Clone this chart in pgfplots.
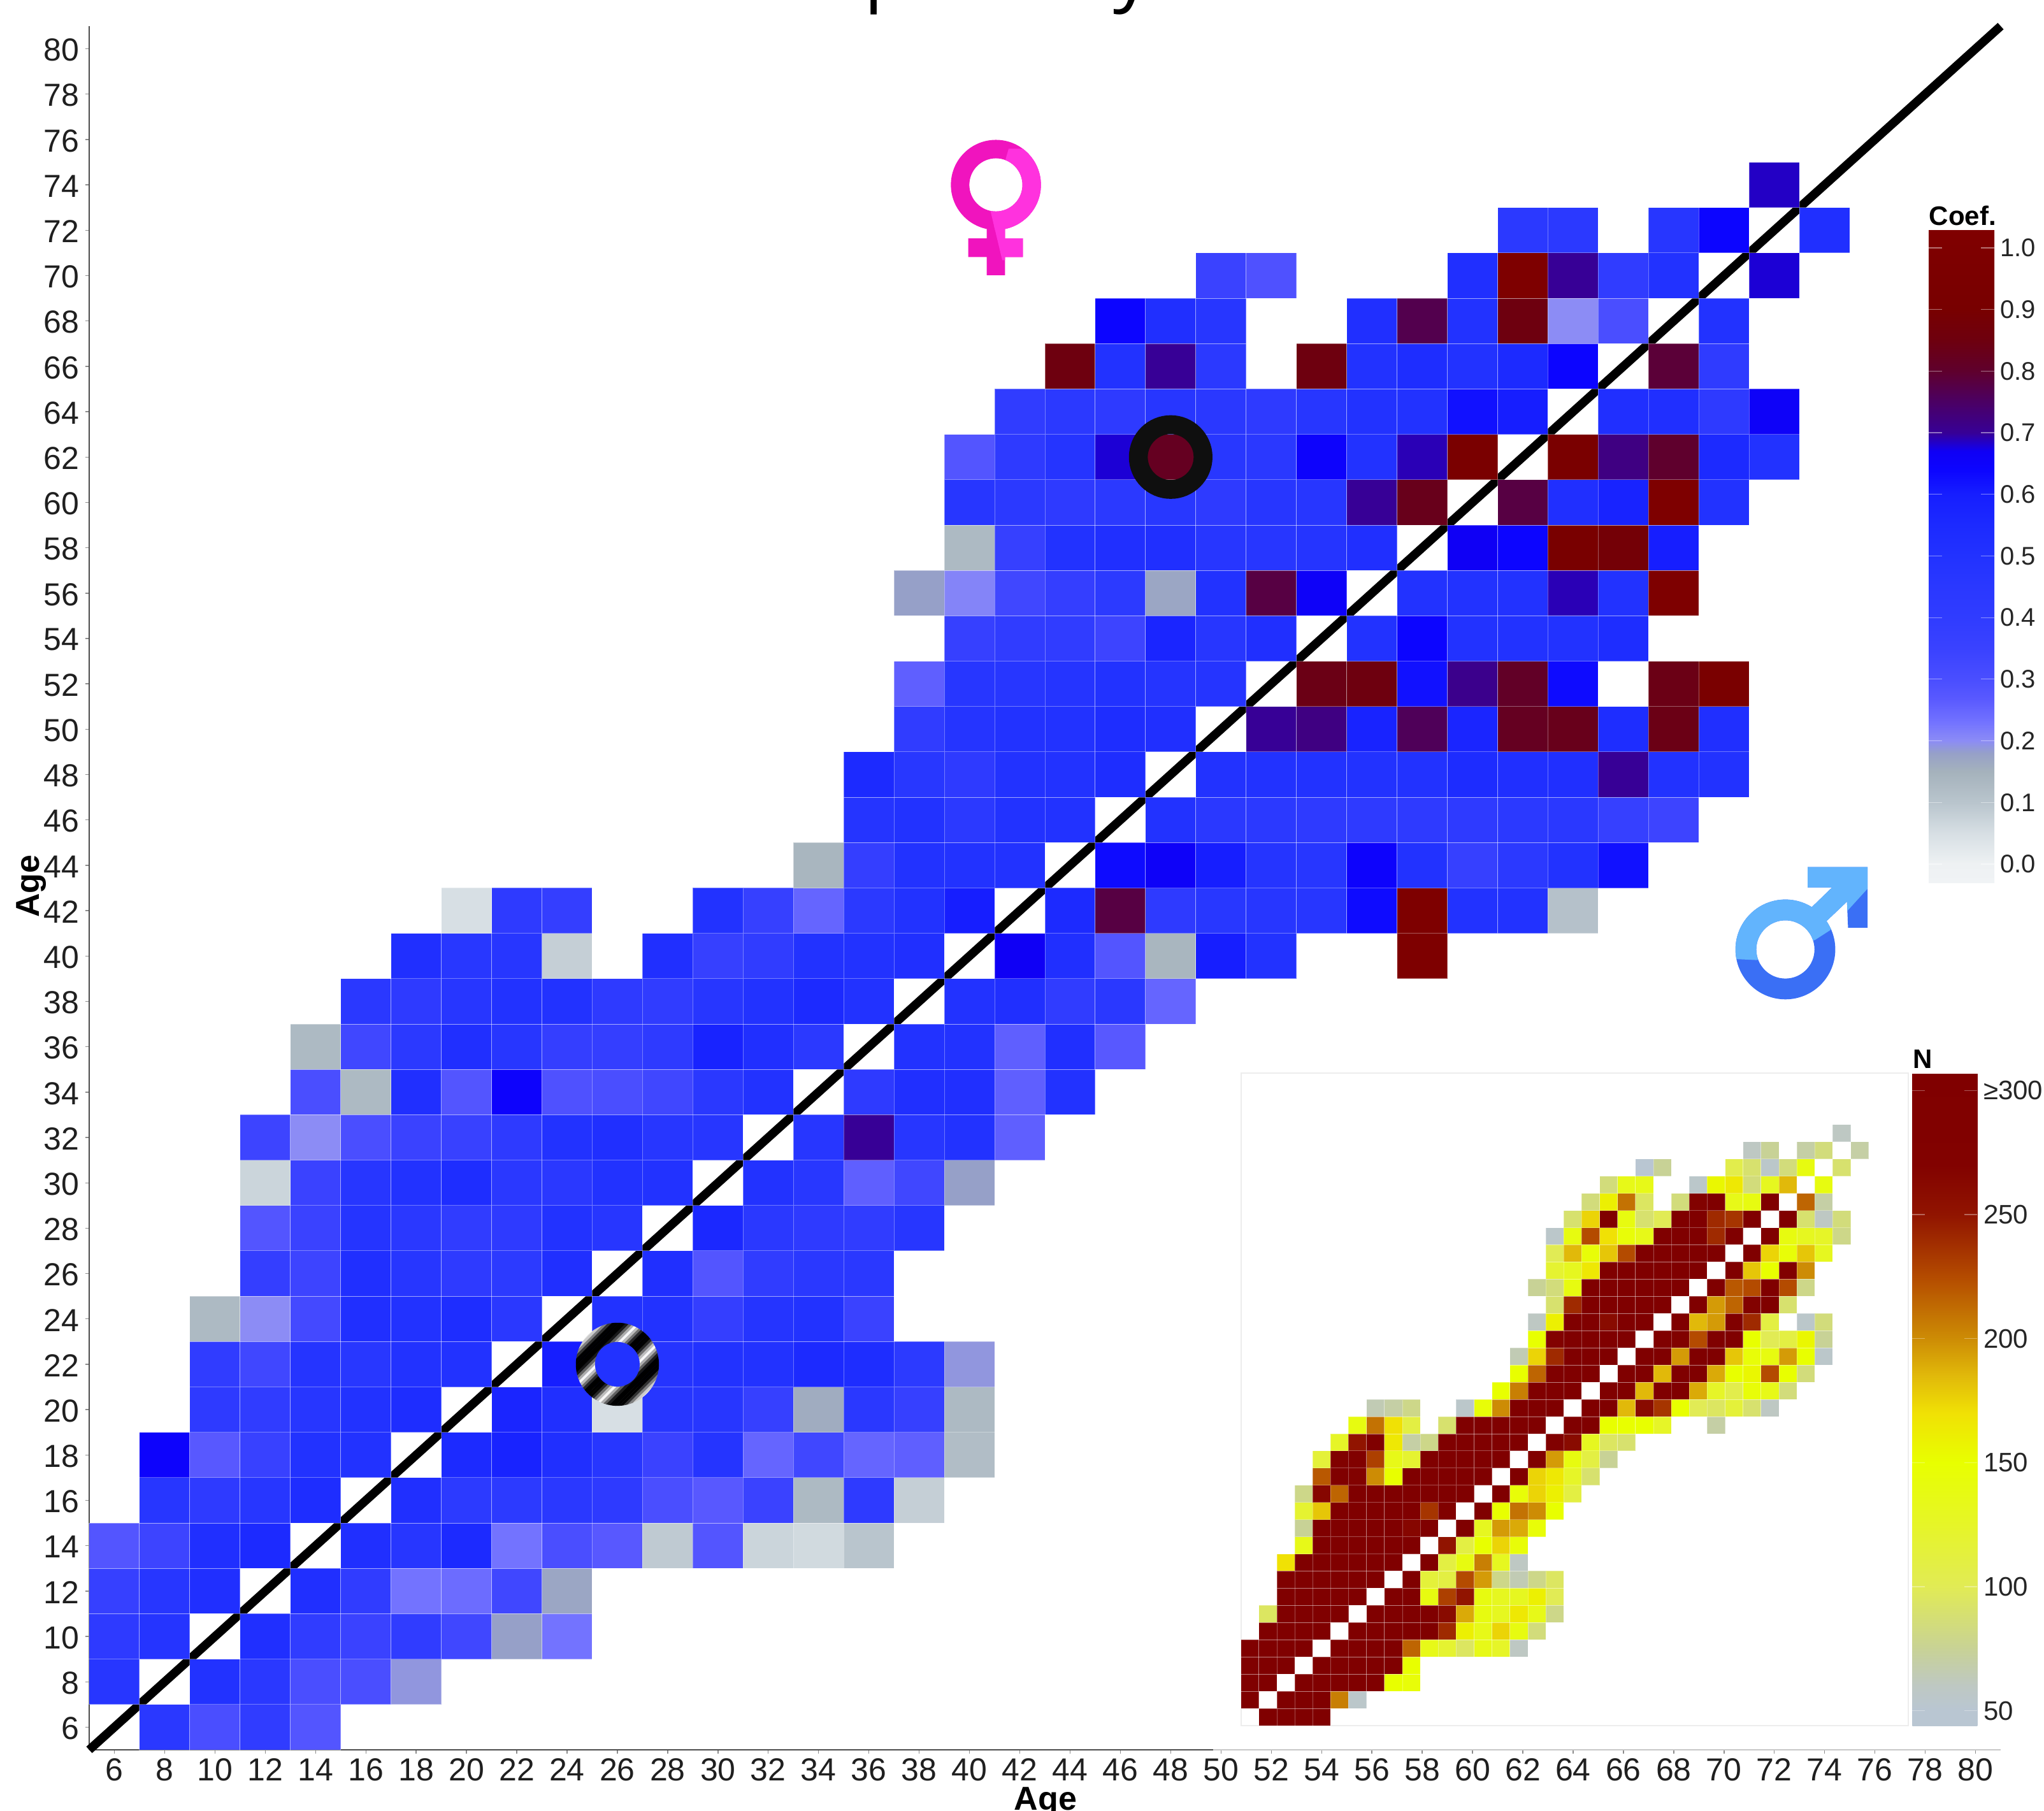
\documentclass[border=0pt]{standalone}
\usepackage{fontspec}
\setmainfont{Liberation Sans}
\newfontfamily\titlefont{Open Sans}
\usepackage{pgfplots}
\pgfplotsset{compat=1.18}

% 1 px of the reference = 0.25pt here
\pgfplotsset{
  colormap={coef}{
    rgb255(0pt)=(240,243,245) rgb255(3pt)=(238,241,243) rgb255(8pt)=(215,223,228)
    rgb255(13pt)=(185,197,205) rgb255(18pt)=(165,178,188) rgb255(21pt)=(150,160,200)
    rgb255(23pt)=(140,140,245) rgb255(26pt)=(115,115,255) rgb255(30pt)=(88,88,255)
    rgb255(33pt)=(74,78,255) rgb255(38pt)=(58,66,255) rgb255(43pt)=(48,60,255)
    rgb255(48pt)=(42,56,255) rgb255(53pt)=(34,50,255) rgb255(58pt)=(28,42,255)
    rgb255(63pt)=(22,30,255) rgb255(67pt)=(12,5,255) rgb255(70pt)=(15,0,245)
    rgb255(73pt)=(55,0,150) rgb255(78pt)=(75,0,100) rgb255(83pt)=(95,0,45)
    rgb255(88pt)=(110,0,15) rgb255(93pt)=(120,0,0) rgb255(106pt)=(128,0,0)},
  colormap={count}{
    rgb255(0pt)=(185,198,210) rgb255(6pt)=(185,198,210) rgb255(16pt)=(190,200,195)
    rgb255(31pt)=(200,210,150) rgb255(46pt)=(215,225,110) rgb255(56pt)=(225,235,85)
    rgb255(81pt)=(230,245,40) rgb255(106pt)=(232,255,0) rgb255(126pt)=(240,225,5)
    rgb255(141pt)=(225,185,10) rgb255(156pt)=(205,140,5) rgb255(181pt)=(180,75,0)
    rgb255(206pt)=(145,20,0) rgb255(226pt)=(130,2,0) rgb255(263pt)=(128,0,0)},
  cell/.style={scatter, only marks, mark=square*, scatter src=explicit,
    scatter/use mapped color={draw=white,fill=mapped color}},
}

\definecolor{venusdark}{RGB}{240,20,190}
\definecolor{venuslight}{RGB}{255,50,222}
\definecolor{marsdark}{RGB}{58,111,245}
\definecolor{marslight}{RGB}{98,180,253}

% ring with a diagonal black and white grating, built from thin strips
\pgfdeclareplotmark{stripedring}{%
  \pgfpathcircle{\pgfpointorigin}{16.3pt}%
  \pgfpathcircle{\pgfpointorigin}{8.8pt}%
  \pgfseteorule\pgfusepath{clip}%
  \pgfsetnonzerorule
  \pgftransformrotate{-45}%
  \foreach \p/\k in {-17/10,-16/20,-15/50,-14/80,-13/100,-12/100,-11/100,-10/100,-9/90,-8/62,-7/32,-6/3,-5/26,-4/56,-3/85,-2/100,-1/100,0/100,1/100,2/85,3/56,4/26,5/3,6/32,7/62,8/90,9/100,10/100,11/100,12/100,13/80,14/50,15/20,16/10}{%
    \pgfsetfillcolor{black!\k!white}%
    \pgfpathrectangle{\pgfpoint{\p pt}{-18pt}}{\pgfpoint{1.05pt}{36pt}}%
    \pgfusepath{fill}}}

\def\pg#1#2{\pgfpoint{#1pt}{#2pt}}

\def\venusshape{%
  \pgfpathcircle{\pgfpointorigin}{212pt}\pgfpathcircle{\pgfpointorigin}{125pt}%
  \pgfseteorule\pgfusepath{fill}%
  \pgfsetnonzerorule
  \pgfpathrectangle{\pg{-43}{-425}}{\pg{86}{235}}%
  \pgfpathrectangle{\pg{-130}{-340}}{\pg{257}{88}}%
  \pgfusepath{fill}}
\pgfdeclareplotmark{venus}{%
  \pgftransformscale{0.08333}%
  \pgfsetfillcolor{venusdark}\venusshape
  \pgfpathmoveto{\pg{60}{170}}\pgfpathlineto{\pg{300}{170}}\pgfpathlineto{\pg{300}{-340}}%
  \pgfpathlineto{\pg{30}{-355}}\pgfpathlineto{\pg{-25}{-125}}\pgfpathclose
  \pgfusepath{clip}%
  \pgfsetfillcolor{venuslight}\venusshape}

\def\marsshape{%
  \pgfpathcircle{\pgfpointorigin}{235pt}\pgfpathcircle{\pgfpointorigin}{137pt}%
  \pgfseteorule\pgfusepath{fill}%
  \pgfsetnonzerorule
  \pgfpathmoveto{\pg{105}{388}}\pgfpathlineto{\pg{387}{388}}\pgfpathlineto{\pg{387}{102}}%
  \pgfpathlineto{\pg{295}{102}}\pgfpathlineto{\pg{290}{225}}\pgfpathlineto{\pg{190}{130}}%
  \pgfpathlineto{\pg{110}{110}}\pgfpathlineto{\pg{125}{200}}\pgfpathlineto{\pg{220}{292}}%
  \pgfpathlineto{\pg{105}{292}}\pgfpathclose
  \pgfusepath{fill}}
\pgfdeclareplotmark{mars}{%
  \pgftransformscale{0.08333}%
  \pgfsetfillcolor{marsdark}\marsshape
  \pgfpathmoveto{\pg{-240}{-45}}\pgfpathlineto{\pg{-135}{-50}}\pgfpathlineto{\pg{140}{45}}%
  \pgfpathlineto{\pg{210}{90}}\pgfpathlineto{\pg{295}{185}}\pgfpathlineto{\pg{395}{295}}%
  \pgfpathlineto{\pg{400}{400}}\pgfpathlineto{\pg{-300}{400}}\pgfpathclose
  \pgfusepath{clip}%
  \pgfsetfillcolor{marslight}\marsshape}

\begin{document}
\begin{tikzpicture}[x=1pt,y=1pt]
\path[use as bounding box] (0,0) rectangle (802,710.25);

% cut off by the top of the page, as in the reference
\node[anchor=base east,inner sep=0pt,font=\titlefont\fontsize{29.8}{34}\selectfont] at (452,711.5) {Male and female separately};

\begin{axis}[
  at={(35pt,23.75pt)}, anchor=south west,
  scale only axis, width=750pt, height=676.25pt,
  xmin=5, xmax=81, ymin=5, ymax=81,
  clip=false,
  axis x line*=bottom, axis y line*=left,
  axis line style={-, draw=black!70, line width=.7pt},
  x axis line style={draw=black!22, line width=.5pt},
  xtick={6,8,...,80}, ytick={6,8,...,80},
  tick align=outside, major tick length=1.5pt,
  tick style={draw=black!45, line width=.35pt},
  /pgf/number format/assume math mode=true,
  tick label style={font=\fontsize{12.5}{14}\selectfont, text=black!88, inner sep=0pt},
  xticklabel style={anchor=north, yshift=-1.8pt},
  yticklabel style={anchor=east, xshift=-2.2pt, yshift=-.5pt},
  xlabel={\textbf{Age}}, ylabel={\textbf{Age}},
  xlabel style={at={(axis description cs:0.5003,-0.0351)}, anchor=base, inner sep=0pt, font=\fontsize{13}{15}\selectfont},
  ylabel style={at={(axis description cs:-0.026,0.501)}, anchor=base, rotate=0, inner sep=0pt, font=\fontsize{13}{15}\selectfont},
  colormap name=coef,
  point meta min=-0.03, point meta max=1.03,
  colorbar,
  colorbar/width=25.75pt,
  colorbar style={
    at={(parent axis.south west)}, anchor=south west, xshift=713.25pt, yshift=340.25pt,
    height=256.25pt, scale only axis,
    axis line style={draw=none},
    ytick={0,0.1,...,1.0},
    yticklabels={0.0,0.1,0.2,0.3,0.4,0.5,0.6,0.7,0.8,0.9,1.0},
    ytick pos=both, yticklabel pos=right,
    tick align=inside, major tick length=5.25pt,
    ytick style={draw=white, opacity=.45, line width=.3pt},
    yticklabel style={font=\fontsize{10}{12}\selectfont, text=black!85, inner sep=0pt, xshift=2pt, anchor=west},
    title={\textbf{Coef.}},
    title style={at={(0,1)}, anchor=base west, inner sep=0pt, yshift=-4.3pt, font=\fontsize{10.5}{12}\selectfont},
  },
]
\addplot[cell, mark size=9.87pt, mark options={yscale=.9017, draw opacity=.35, line width=.25pt}] coordinates {
(8,6)[.45](10,6)[.3](12,6)[.4](14,6)[.28]
(6,8)[.47](10,8)[.5](12,8)[.45](14,8)[.3](16,8)[.3](18,8)[.19]
(6,10)[.42](8,10)[.48](12,10)[.52](14,10)[.4](16,10)[.35](18,10)[.4](20,10)[.33](22,10)[.18](24,10)[.23]
(6,12)[.37](8,12)[.47](10,12)[.52](14,12)[.52](16,12)[.4](18,12)[.23](20,12)[.24](22,12)[.33](24,12)[.17]
(6,14)[.28](8,14)[.34](10,14)[.52](12,14)[.55](16,14)[.52](18,14)[.47](20,14)[.55](22,14)[.23](24,14)[.3](26,14)[.27](28,14)[.09](30,14)[.28](32,14)[.07](34,14)[.06](36,14)[.1]
(8,16)[.47](10,16)[.42](12,16)[.47](14,16)[.53](18,16)[.52](20,16)[.43](22,16)[.43](24,16)[.45](26,16)[.42](28,16)[.3](30,16)[.27](32,16)[.35](34,16)[.13](36,16)[.42](38,16)[.08]
(8,18)[.65](10,18)[.27](12,18)[.36](14,18)[.5](16,18)[.5](20,18)[.55](22,18)[.58](24,18)[.52](26,18)[.47](28,18)[.35](30,18)[.48](32,18)[.25](34,18)[.33](36,18)[.25](38,18)[.26](40,18)[.12]
(10,20)[.42](12,20)[.4](14,20)[.47](16,20)[.5](18,20)[.53](22,20)[.57](24,20)[.52](26,20)[.05](28,20)[.47](30,20)[.47](32,20)[.37](34,20)[.16](36,20)[.45](38,20)[.37](40,20)[.13]
(10,22)[.4](12,22)[.33](14,22)[.48](16,22)[.46](18,22)[.5](20,22)[.5](24,22)[.6](26,22)[.5](28,22)[.48](30,22)[.5](32,22)[.5](34,22)[.55](36,22)[.53](38,22)[.43](40,22)[.19]
(10,24)[.13](12,24)[.2](14,24)[.32](16,24)[.52](18,24)[.5](20,24)[.53](22,24)[.45](26,24)[.5](28,24)[.5](30,24)[.38](32,24)[.48](34,24)[.5](36,24)[.35]
(12,26)[.38](14,26)[.34](16,26)[.52](18,26)[.47](20,26)[.42](22,26)[.43](24,26)[.52](28,26)[.52](30,26)[.28](32,26)[.4](34,26)[.45](36,26)[.45]
(12,28)[.28](14,28)[.35](16,28)[.48](18,28)[.45](20,28)[.4](22,28)[.42](24,28)[.5](26,28)[.47](30,28)[.56](32,28)[.45](34,28)[.42](36,28)[.4](38,28)[.47]
(12,30)[.07](14,30)[.35](16,30)[.47](18,30)[.5](20,30)[.53](22,30)[.45](24,30)[.45](26,30)[.5](28,30)[.5](32,30)[.5](34,30)[.46](36,30)[.26](38,30)[.33](40,30)[.18]
(12,32)[.34](14,32)[.2](16,32)[.3](18,32)[.35](20,32)[.36](22,32)[.42](24,32)[.5](26,32)[.52](28,32)[.47](30,32)[.47](34,32)[.47](36,32)[.7](38,32)[.47](40,32)[.5](42,32)[.26]
(14,34)[.3](16,34)[.13](18,34)[.52](20,34)[.28](22,34)[.65](24,34)[.29](26,34)[.3](28,34)[.33](30,34)[.45](32,34)[.5](36,34)[.42](38,34)[.52](40,34)[.52](42,34)[.26](44,34)[.5]
(14,36)[.13](16,36)[.33](18,36)[.44](20,36)[.52](22,36)[.47](24,36)[.38](26,36)[.38](28,36)[.42](30,36)[.58](32,36)[.52](34,36)[.44](38,36)[.5](40,36)[.5](42,36)[.26](44,36)[.52](46,36)[.27]
(16,38)[.45](18,38)[.42](20,38)[.47](22,38)[.5](24,38)[.5](26,38)[.42](28,38)[.4](30,38)[.47](32,38)[.5](34,38)[.55](36,38)[.5](40,38)[.5](42,38)[.52](44,38)[.4](46,38)[.45](48,38)[.25]
(18,40)[.52](20,40)[.46](22,40)[.47](24,40)[.08](28,40)[.52](30,40)[.37](32,40)[.4](34,40)[.5](36,40)[.5](38,40)[.52](42,40)[.67](44,40)[.52](46,40)[.28](48,40)[.14](50,40)[.6](52,40)[.5](58,40)[1.0]
(20,42)[.05](22,42)[.42](24,42)[.38](30,42)[.5](32,42)[.37](34,42)[.25](36,42)[.44](38,42)[.5](40,42)[.6](44,42)[.55](46,42)[.78](48,42)[.42](50,42)[.46](52,42)[.47](54,42)[.47](56,42)[.63](58,42)[1.0](60,42)[.5](62,42)[.5](64,42)[.11]
(34,44)[.14](36,44)[.38](38,44)[.5](40,44)[.5](42,44)[.5](46,44)[.63](48,44)[.66](50,44)[.6](52,44)[.48](54,44)[.47](56,44)[.65](58,44)[.5](60,44)[.37](62,44)[.44](64,44)[.5](66,44)[.62]
(36,46)[.48](38,46)[.5](40,46)[.44](42,46)[.5](44,46)[.5](48,46)[.5](50,46)[.45](52,46)[.44](54,46)[.42](56,46)[.42](58,46)[.42](60,46)[.42](62,46)[.44](64,46)[.45](66,46)[.37](68,46)[.34]
(36,48)[.55](38,48)[.46](40,48)[.42](42,48)[.5](44,48)[.5](46,48)[.53](50,48)[.5](52,48)[.5](54,48)[.5](56,48)[.5](58,48)[.5](60,48)[.54](62,48)[.52](64,48)[.52](66,48)[.7](68,48)[.5](70,48)[.5]
(38,50)[.4](40,50)[.48](42,50)[.5](44,50)[.5](46,50)[.53](48,50)[.52](52,50)[.7](54,50)[.72](56,50)[.58](58,50)[.76](60,50)[.57](62,50)[.82](64,50)[.83](66,50)[.53](68,50)[.84](70,50)[.52]
(38,52)[.26](40,52)[.47](42,52)[.47](44,52)[.48](46,52)[.5](48,52)[.48](50,52)[.48](54,52)[.84](56,52)[.85](58,52)[.62](60,52)[.71](62,52)[.81](64,52)[.63](68,52)[.84](70,52)[.93]
(40,54)[.37](42,54)[.4](44,54)[.4](46,54)[.34](48,54)[.57](50,54)[.47](52,54)[.52](56,54)[.5](58,54)[.64](60,54)[.5](62,54)[.5](64,54)[.5](66,54)[.53]
(38,56)[.18](40,56)[.21](42,56)[.33](44,56)[.38](46,56)[.43](48,56)[.17](50,56)[.5](52,56)[.78](54,56)[.66](58,56)[.5](60,56)[.5](62,56)[.5](64,56)[.69](66,56)[.5](68,56)[1.0]
(40,58)[.13](42,58)[.37](44,58)[.5](46,58)[.52](48,58)[.52](50,58)[.47](52,58)[.47](54,58)[.48](56,58)[.52](60,58)[.67](62,58)[.64](64,58)[.92](66,58)[.88](68,58)[.6]
(40,60)[.47](42,60)[.44](44,60)[.42](46,60)[.44](48,60)[.46](50,60)[.42](52,60)[.47](54,60)[.47](56,60)[.7](58,60)[.83](62,60)[.78](64,60)[.52](66,60)[.58](68,60)[1.0](70,60)[.5]
(40,62)[.28](42,62)[.42](44,62)[.48](46,62)[.68](48,62)[.82](50,62)[.46](52,62)[.45](54,62)[.65](56,62)[.5](58,62)[.69](60,62)[.93](64,62)[.93](66,62)[.72](68,62)[.8](70,62)[.55](72,62)[.5]
(42,64)[.4](44,64)[.44](46,64)[.42](48,64)[.47](50,64)[.45](52,64)[.42](54,64)[.47](56,64)[.5](58,64)[.5](60,64)[.62](62,64)[.6](66,64)[.52](68,64)[.52](70,64)[.42](72,64)[.66]
(44,66)[.85](46,66)[.5](48,66)[.7](50,66)[.44](54,66)[.85](56,66)[.5](58,66)[.53](60,66)[.5](62,66)[.55](64,66)[.64](68,66)[.79](70,66)[.41]
(46,68)[.64](48,68)[.52](50,68)[.47](56,68)[.52](58,68)[.77](60,68)[.5](62,68)[.85](64,68)[.2](66,68)[.3](70,68)[.5]
(50,70)[.35](52,70)[.29](60,70)[.52](62,70)[1.0](64,70)[.7](66,70)[.4](68,70)[.5](72,70)[.68]
(62,72)[.44](64,72)[.44](68,72)[.47](70,72)[.64](74,72)[.52]
(72,74)[.685]
};
% dark part of the bottom axis line, the rest lies under the inset
\addplot[draw=black!70, line width=.7pt, no markers] coordinates {(5,5)(49.7,5)};
\addplot[draw=black, line width=3.4pt, no markers] coordinates {(5,5)(81,81)};
\addplot[only marks, mark=o, mark size=12.7pt, mark options={draw=black!94, line width=7.4pt}] coordinates {(48,62)};
\addplot[only marks, mark=stripedring] coordinates {(26,22)};
\addplot[only marks, mark=venus] coordinates {(41.05,74)};
\addplot[only marks, mark=mars] coordinates {(72.44,40.29)};
\end{axis}

% inset: number of subjects per cell, same age grid
\begin{axis}[
  at={(486.9pt,33.25pt)}, anchor=south west,
  scale only axis, width=261.75pt, height=256pt,
  xmin=5, xmax=79.4, ymin=5, ymax=81,
  clip=false,
  axis line style={draw=black!7, line width=.5pt},
  xtick=\empty, ytick=\empty,
  colormap name=count,
  point meta min=44, point meta max=307,
  colorbar,
  colorbar/width=25.5pt,
  colorbar style={
    at={(parent axis.south west)}, anchor=south west, xshift=254.9pt,
    height=256pt, scale only axis,
    axis line style={draw=none},
    ytick={50,100,150,200,250,300},
    yticklabels={50,100,150,200,250,{≥300}},
    ytick pos=both, yticklabel pos=right,
    tick align=inside, major tick length=5pt,
    ytick style={draw=white, opacity=.35, line width=.3pt},
    yticklabel style={font=\fontsize{10.5}{12}\selectfont, text=black!85, inner sep=0pt, xshift=2.2pt, anchor=west},
    title={\textbf{N}},
    title style={at={(0,1)}, anchor=base west, inner sep=0pt, yshift=-4pt, font=\fontsize{10.5}{12}\selectfont},
  },
]
\addplot[cell, mark size=3.52pt, mark options={yscale=.957, draw opacity=.3, line width=.2pt}] coordinates {
(8,6)[305](10,6)[305](12,6)[305](14,6)[305]
(6,8)[305](10,8)[305](12,8)[305](14,8)[305](16,8)[205](18,8)[55]
(6,10)[305](8,10)[305](12,10)[305](14,10)[305](16,10)[305](18,10)[305](20,10)[305](22,10)[150](24,10)[145]
(6,12)[305](8,12)[305](10,12)[305](14,12)[305](16,12)[305](18,12)[305](20,12)[305](22,12)[305](24,12)[150]
(6,14)[305](8,14)[305](10,14)[305](12,14)[305](16,14)[305](18,14)[305](20,14)[305](22,14)[305](24,14)[215](26,14)[135](28,14)[120](30,14)[95](32,14)[135](34,14)[125](36,14)[60]
(8,16)[305](10,16)[305](12,16)[305](14,16)[305](18,16)[305](20,16)[305](22,16)[305](24,16)[305](26,16)[305](28,16)[240](30,16)[160](32,16)[135](34,16)[175](36,16)[140](38,16)[85]
(8,18)[95](10,18)[305](12,18)[305](14,18)[305](16,18)[305](20,18)[305](22,18)[305](24,18)[305](26,18)[305](28,18)[260](30,18)[190](32,18)[140](34,18)[130](36,18)[165](38,18)[135](40,18)[80]
(10,20)[305](12,20)[305](14,20)[305](16,20)[305](18,20)[305](22,20)[305](24,20)[305](26,20)[140](28,20)[230](30,20)[250](32,20)[140](34,20)[130](36,20)[130](38,20)[160](40,20)[100]
(10,22)[305](12,22)[305](14,22)[305](16,22)[305](18,22)[305](20,22)[305](24,22)[305](26,22)[115](28,22)[110](30,22)[225](32,22)[195](34,22)[80](36,22)[65](38,22)[80](40,22)[95]
(10,24)[170](12,24)[305](14,24)[305](16,24)[305](18,24)[305](20,24)[305](22,24)[305](26,24)[305](28,24)[110](30,24)[140](32,24)[205](34,24)[130](36,24)[60]
(12,26)[135](14,26)[305](16,26)[305](18,26)[305](20,26)[305](22,26)[305](24,26)[305](28,26)[250](30,26)[110](32,26)[150](34,26)[175](36,26)[145]
(12,28)[75](14,28)[305](16,28)[305](18,28)[305](20,28)[305](22,28)[305](24,28)[265](26,28)[305](30,28)[305](32,28)[130](34,28)[195](36,28)[190](38,28)[145]
(12,30)[120](14,30)[180](16,30)[305](18,30)[305](20,30)[305](22,30)[305](24,30)[305](26,30)[235](28,30)[290](32,30)[305](34,30)[150](36,30)[210](38,30)[200](40,30)[150]
(12,32)[80](14,32)[265](16,32)[215](18,32)[305](20,32)[305](22,32)[305](24,32)[305](26,32)[305](28,32)[305](30,32)[305](34,32)[305](36,32)[145](38,32)[175](40,32)[160](42,32)[110]
(14,34)[220](16,34)[305](18,34)[270](20,34)[200](22,34)[150](24,34)[305](26,34)[305](28,34)[305](30,34)[305](32,34)[305](36,34)[305](38,34)[175](40,34)[165](42,34)[125](44,34)[90]
(14,36)[115](16,36)[280](18,36)[280](20,36)[230](22,36)[135](24,36)[120](26,36)[305](28,36)[305](30,36)[305](32,36)[305](34,36)[305](38,36)[290](40,36)[195](42,36)[140](44,36)[110](46,36)[75]
(16,38)[125](18,38)[250](20,38)[305](22,38)[165](24,38)[70](26,38)[80](28,38)[305](30,38)[305](32,38)[305](34,38)[305](36,38)[305](40,38)[290](42,38)[260](44,38)[130](46,38)[95](48,38)[90]
(18,40)[140](20,40)[210](22,40)[170](24,40)[110](28,40)[90](30,40)[305](32,40)[305](34,40)[305](36,40)[305](38,40)[305](42,40)[305](44,40)[305](46,40)[150](48,40)[150](50,40)[150](52,40)[125](58,40)[70]
(20,42)[65](22,42)[70](24,42)[80](30,42)[55](32,42)[145](34,42)[200](36,42)[305](38,42)[305](40,42)[305](44,42)[305](46,42)[305](48,42)[185](50,42)[260](52,42)[235](54,42)[150](56,42)[100](58,42)[95](60,42)[115](62,42)[90](64,42)[60]
(34,44)[150](36,44)[205](38,44)[305](40,44)[305](42,44)[305](46,44)[305](48,44)[305](50,44)[185](52,44)[305](54,44)[305](56,44)[190](58,44)[125](60,44)[105](62,44)[145](64,44)[135](66,44)[85]
(36,46)[150](38,46)[215](40,46)[305](42,46)[305](44,46)[305](48,46)[305](50,46)[305](52,46)[185](54,46)[305](56,46)[305](58,46)[190](60,46)[150](62,46)[155](64,46)[225](66,46)[150](68,46)[85]
(36,48)[65](38,48)[175](40,48)[240](42,48)[305](44,48)[305](46,48)[305](50,48)[305](52,48)[305](54,48)[195](56,48)[305](58,48)[305](60,48)[180](62,48)[145](64,48)[140](66,48)[195](68,48)[150](70,48)[55]
(38,50)[150](40,50)[270](42,50)[305](44,50)[305](46,50)[305](48,50)[305](52,50)[305](54,50)[290](56,50)[225](58,50)[305](60,50)[305](62,50)[150](64,50)[100](66,50)[110](68,50)[155](70,50)[75]
(38,52)[60](40,52)[160](42,52)[305](44,52)[305](46,52)[260](48,52)[305](50,52)[305](54,52)[305](56,52)[185](58,52)[195](60,52)[290](62,52)[240](64,52)[110](68,52)[55](70,52)[85]
(40,54)[90](42,54)[240](44,54)[305](46,54)[305](48,54)[305](50,54)[305](52,54)[305](56,54)[305](58,54)[195](60,54)[215](62,54)[270](64,54)[305](66,54)[90]
(38,56)[75](40,56)[85](42,56)[140](44,56)[305](46,56)[305](48,56)[305](50,56)[305](52,56)[305](54,56)[305](58,56)[305](60,56)[220](62,56)[225](64,56)[305](66,56)[225](68,56)[80]
(40,58)[120](42,58)[130](44,58)[165](46,58)[305](48,58)[305](50,58)[305](52,58)[305](54,58)[305](56,58)[305](60,58)[305](62,58)[180](64,58)[150](66,58)[280](68,58)[200]
(40,60)[100](42,60)[185](44,60)[145](46,60)[180](48,60)[225](50,60)[305](52,60)[305](54,60)[305](56,60)[305](58,60)[305](62,60)[305](64,60)[175](66,60)[145](68,60)[180](70,60)[130]
(40,62)[55](42,62)[140](44,62)[225](46,62)[170](48,62)[145](50,62)[135](52,62)[305](54,62)[305](56,62)[305](58,62)[240](60,62)[305](64,62)[305](66,62)[140](68,62)[130](70,62)[125](72,62)[80]
(42,64)[90](44,64)[175](46,64)[305](48,64)[140](50,64)[90](52,64)[100](54,64)[305](56,64)[305](58,64)[240](60,64)[235](62,64)[305](66,64)[305](68,64)[90](70,64)[60](72,64)[85]
(44,66)[85](46,66)[160](48,66)[210](50,66)[95](54,66)[85](56,66)[270](58,66)[305](60,66)[135](62,66)[140](64,66)[305](68,66)[215](70,66)[70]
(46,68)[85](48,68)[135](50,68)[135](56,68)[55](58,68)[155](60,68)[165](62,68)[85](64,68)[130](66,68)[185](70,68)[140]
(50,70)[50](52,70)[75](60,70)[105](62,70)[90](64,70)[55](66,70)[85](68,70)[140](72,70)[90]
(62,72)[60](64,72)[75](68,72)[70](70,72)[85](74,72)[70]
(72,74)[60]
};
\end{axis}
\end{tikzpicture}
\end{document}
